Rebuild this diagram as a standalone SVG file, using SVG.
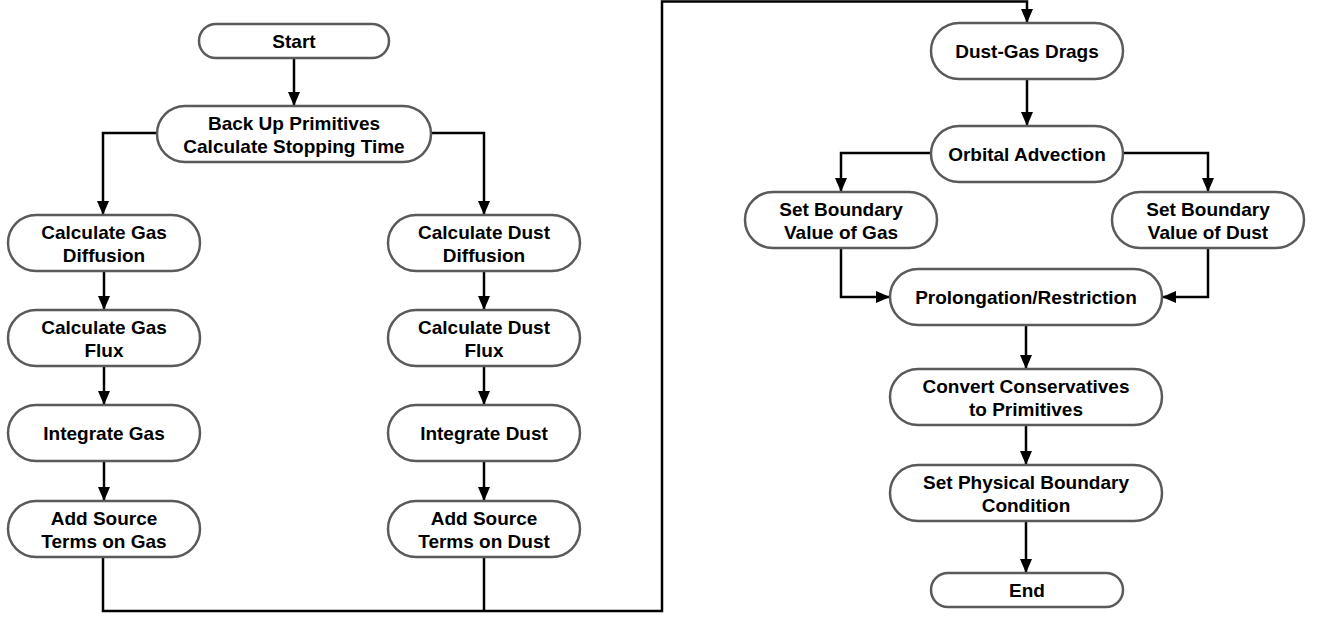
<svg xmlns="http://www.w3.org/2000/svg" width="1322" height="619" viewBox="0 0 1322 619">
<style>
.box{fill:#fff;stroke:#5a5a5a;stroke-width:2.5}
.t{font-family:"Liberation Sans",Arial,Helvetica,sans-serif;font-weight:bold;font-size:19px;fill:#000;text-anchor:middle}
.c{fill:none;stroke:#000;stroke-width:2.5}
</style>
<defs>
<marker id="ah" viewBox="0 0 14 12" markerUnits="userSpaceOnUse" markerWidth="14" markerHeight="12" refX="14" refY="6" orient="auto">
<path d="M0,0 L14,6 L0,12 z" fill="#000"/>
</marker>
</defs>
<rect width="1322" height="619" fill="#fff"/>
<g id="connectors">
<path class="c" d="M294,58 V106" marker-end="url(#ah)"/>
<path class="c" d="M157,133 H103 V215" marker-end="url(#ah)"/>
<path class="c" d="M431,133 H484 V215" marker-end="url(#ah)"/>
<path class="c" d="M104,271 V310" marker-end="url(#ah)"/>
<path class="c" d="M104,366 V405" marker-end="url(#ah)"/>
<path class="c" d="M104,461 V501" marker-end="url(#ah)"/>
<path class="c" d="M484,271 V310" marker-end="url(#ah)"/>
<path class="c" d="M484,366 V405" marker-end="url(#ah)"/>
<path class="c" d="M484,461 V501" marker-end="url(#ah)"/>
<path class="c" d="M103,557 V611 H662 V1.5 H1027 V23" marker-end="url(#ah)"/>
<path class="c" d="M484,557 V611"/>
<path class="c" d="M1027,79 V126" marker-end="url(#ah)"/>
<path class="c" d="M931,153 H841 V192" marker-end="url(#ah)"/>
<path class="c" d="M1123,153 H1208 V192" marker-end="url(#ah)"/>
<path class="c" d="M841,248 V297 H890" marker-end="url(#ah)"/>
<path class="c" d="M1208,248 V297 H1162" marker-end="url(#ah)"/>
<path class="c" d="M1026,325 V369" marker-end="url(#ah)"/>
<path class="c" d="M1026,425 V465" marker-end="url(#ah)"/>
<path class="c" d="M1026,521 V573" marker-end="url(#ah)"/>
</g>
<g id="start"><rect class="box" x="199" y="24" width="190" height="34" rx="17"/><text class="t" x="294" y="48">Start</text></g>
<g id="backup"><rect class="box" x="157" y="106" width="274" height="56" rx="28"/><text class="t" x="294" y="130">Back Up Primitives</text><text class="t" x="294" y="153">Calculate Stopping Time</text></g>
<g id="gasdiff"><rect class="box" x="8" y="215" width="192" height="56" rx="28"/><text class="t" x="104" y="239">Calculate Gas</text><text class="t" x="104" y="262">Diffusion</text></g>
<g id="gasflux"><rect class="box" x="8" y="310" width="192" height="56" rx="28"/><text class="t" x="104" y="334">Calculate Gas</text><text class="t" x="104" y="357">Flux</text></g>
<g id="intgas"><rect class="box" x="8" y="405" width="192" height="56" rx="28"/><text class="t" x="104" y="440">Integrate Gas</text></g>
<g id="srcgas"><rect class="box" x="8" y="501" width="192" height="56" rx="28"/><text class="t" x="104" y="525">Add Source</text><text class="t" x="104" y="548">Terms on Gas</text></g>
<g id="dustdiff"><rect class="box" x="388" y="215" width="192" height="56" rx="28"/><text class="t" x="484" y="239">Calculate Dust</text><text class="t" x="484" y="262">Diffusion</text></g>
<g id="dustflux"><rect class="box" x="388" y="310" width="192" height="56" rx="28"/><text class="t" x="484" y="334">Calculate Dust</text><text class="t" x="484" y="357">Flux</text></g>
<g id="intdust"><rect class="box" x="388" y="405" width="192" height="56" rx="28"/><text class="t" x="484" y="440">Integrate Dust</text></g>
<g id="srcdust"><rect class="box" x="388" y="501" width="192" height="56" rx="28"/><text class="t" x="484" y="525">Add Source</text><text class="t" x="484" y="548">Terms on Dust</text></g>
<g id="drag"><rect class="box" x="931" y="23" width="192" height="56" rx="28"/><text class="t" x="1027" y="58">Dust-Gas Drags</text></g>
<g id="orbital"><rect class="box" x="931" y="126" width="192" height="56" rx="28"/><text class="t" x="1027" y="161">Orbital Advection</text></g>
<g id="bgas"><rect class="box" x="745" y="192" width="192" height="56" rx="28"/><text class="t" x="841" y="216">Set Boundary</text><text class="t" x="841" y="239">Value of Gas</text></g>
<g id="bdust"><rect class="box" x="1112" y="192" width="192" height="56" rx="28"/><text class="t" x="1208" y="216">Set Boundary</text><text class="t" x="1208" y="239">Value of Dust</text></g>
<g id="prolong"><rect class="box" x="890" y="269" width="272" height="56" rx="28"/><text class="t" x="1026" y="304">Prolongation/Restriction</text></g>
<g id="convert"><rect class="box" x="890" y="369" width="272" height="56" rx="28"/><text class="t" x="1026" y="393">Convert Conservatives</text><text class="t" x="1026" y="416">to Primitives</text></g>
<g id="physbc"><rect class="box" x="890" y="465" width="272" height="56" rx="28"/><text class="t" x="1026" y="489">Set Physical Boundary</text><text class="t" x="1026" y="512">Condition</text></g>
<g id="end"><rect class="box" x="931" y="573" width="192" height="34" rx="17"/><text class="t" x="1027" y="597">End</text></g>
</svg>
